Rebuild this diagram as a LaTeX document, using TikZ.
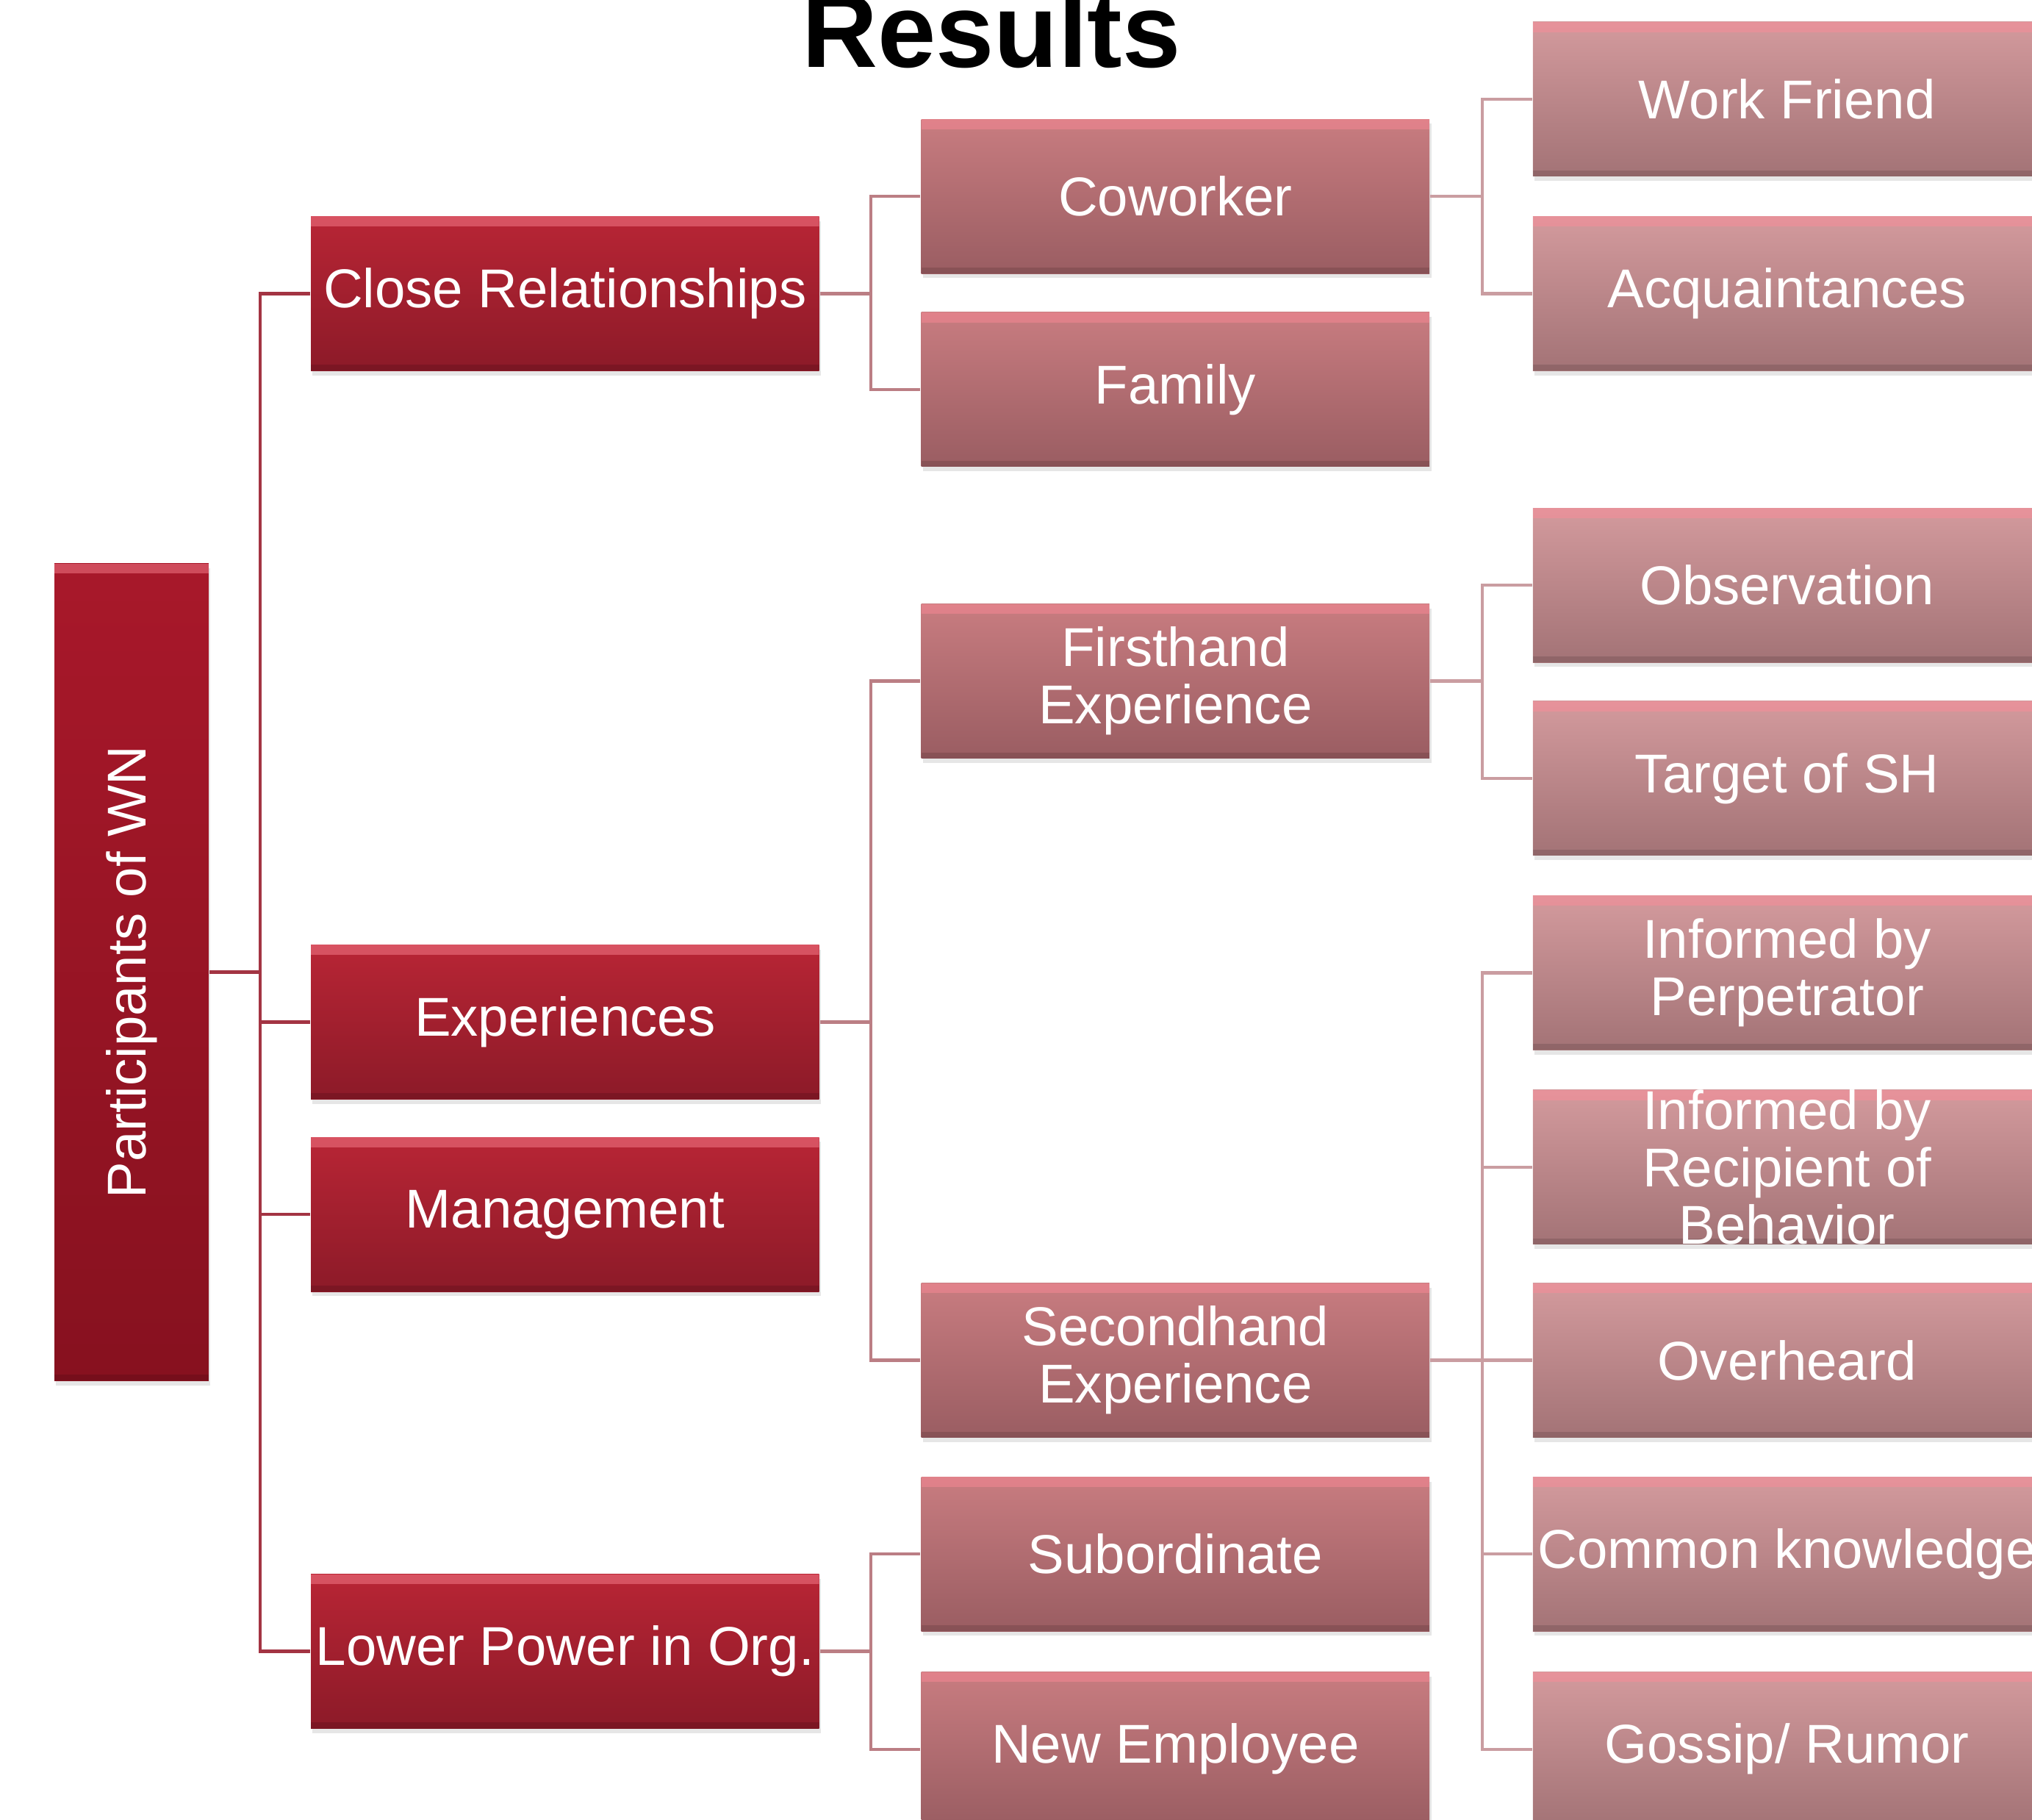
\documentclass[tikz,border=0pt]{standalone}
\usepackage{fontspec}
\setmainfont{Liberation Sans}
\usetikzlibrary{shadows}

\definecolor{rootTop}{HTML}{A8182A}
\definecolor{rootBot}{HTML}{87111F}
\definecolor{oneTop}{HTML}{B82535}
\definecolor{oneBot}{HTML}{8C1A28}
\definecolor{twoTop}{HTML}{C87C80}
\definecolor{twoBot}{HTML}{9A5D62}
\definecolor{threeTop}{HTML}{D39A9D}
\definecolor{threeBot}{HTML}{A37376}
\definecolor{lineOne}{HTML}{A33443}
\definecolor{lineTwo}{HTML}{BB7E84}
\definecolor{lineThree}{HTML}{CA9DA1}
\definecolor{gloss}{HTML}{FF8A98}

\begin{document}
\begin{tikzpicture}[x=0.01cm, y=-0.01cm,
  box/.style={rectangle, inner sep=0pt, minimum width=3.92cm, minimum height=1.19cm,
    text=white, align=center, font=\fontsize{12}{12.6}\selectfont,
    drop shadow={shadow xshift=0.4pt, shadow yshift=-1pt, opacity=0.2},
    path picture={
      \fill[gloss,opacity=0.45] (path picture bounding box.north west) rectangle ([yshift=-2.2pt]path picture bounding box.north east);
      \fill[black,opacity=0.12] (path picture bounding box.south west) rectangle ([yshift=1.3pt]path picture bounding box.south east);}},
  boxroot/.style={box, top color=rootTop, bottom color=rootBot, minimum width=1.19cm, minimum height=6.30cm},
  boxone/.style={box, top color=oneTop, bottom color=oneBot},
  boxtwo/.style={box, top color=twoTop, bottom color=twoBot},
  boxthree/.style={box, top color=threeTop, bottom color=threeBot},
  conn/.style={line width=0.7pt}]
\useasboundingbox (0,0) rectangle (1568,1404);
\clip (0,0) rectangle (1568,1404);

\node[font=\bfseries\fontsize{23}{24}\selectfont, anchor=base] (title) at (765,52) {Results};

% root
\node[boxroot] (root) at (101.5,750) {\rotatebox{90}{Participants of WN}};

% first level
\node[boxone] (close) at (436,226.5) {Close Relationships};
\node[boxone] (exper) at (436,788.5) {Experiences};
\node[boxone] (manage) at (436,937) {Management};
\node[boxone] (lower) at (436,1274) {Lower Power in Org.};

% second level
\node[boxtwo] (cowork) at (907,151.5) {Coworker};
\node[boxtwo] (family) at (907,300.5) {Family};
\node[boxtwo] (first) at (907,525.5) {Firsthand\\Experience};
\node[boxtwo] (second) at (907,1049.5) {Secondhand\\Experience};
\node[boxtwo] (subord) at (907,1199) {Subordinate};
\node[boxtwo] (newemp) at (907,1349.5) {New Employee};

% third level
\node[boxthree] (friend) at (1379,76.5) {Work Friend};
\node[boxthree] (acquaint) at (1379,226.5) {Acquaintances};
\node[boxthree] (observ) at (1379,451.5) {Observation};
\node[boxthree] (target) at (1379,600.5) {Target of SH};
\node[boxthree] (perpet) at (1379,750.5) {Informed by\\Perpetrator};
\node[boxthree, inner ysep=-8pt] (recip) at (1379,900.5) {Informed by\\Recipient of\\Behavior};
\node[boxthree] (overheard) at (1379,1049.5) {Overheard};
\node[boxthree] (common) at (1379,1199) {Common knowledge};
\node[boxthree] (gossip) at (1379,1349.5) {Gossip/ Rumor};

\foreach \n in {close,exper,manage,lower}
  \draw[conn, lineOne] (root.east) -- ++(39,0) |- (\n.west);
\foreach \n in {cowork,family}
  \draw[conn, lineTwo] (close.east) -- ++(39,0) |- (\n.west);
\foreach \n in {first,second}
  \draw[conn, lineTwo] (exper.east) -- ++(39,0) |- (\n.west);
\foreach \n in {subord,newemp}
  \draw[conn, lineTwo] (lower.east) -- ++(39,0) |- (\n.west);
\foreach \n in {friend,acquaint}
  \draw[conn, lineThree] (cowork.east) -- ++(40,0) |- (\n.west);
\foreach \n in {observ,target}
  \draw[conn, lineThree] (first.east) -- ++(40,0) |- (\n.west);
\foreach \n in {perpet,recip,overheard,common,gossip}
  \draw[conn, lineThree] (second.east) -- ++(40,0) |- (\n.west);
\end{tikzpicture}
\end{document}
